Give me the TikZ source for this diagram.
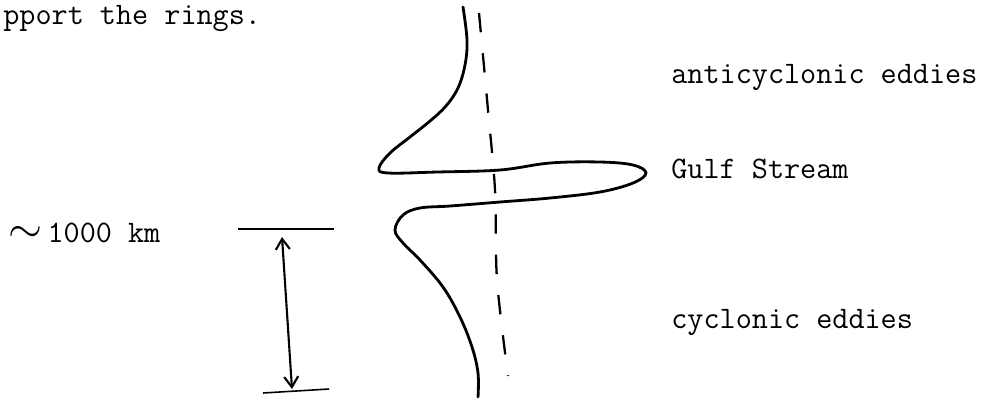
\documentclass[tikz,border=0pt]{standalone}
\usepackage{fontspec}
\usetikzlibrary{arrows.meta}

\begin{document}
\begin{tikzpicture}[
    x=0.02cm, y=-0.02cm,
    txt/.style={anchor=base west, inner sep=0pt,
        font=\fontsize{17.8}{20}\selectfont\ttfamily\addfontfeatures{FakeBold=1.3}},
    stream/.style={line width=1.6pt, line cap=round, line join=round},
    axis/.style={line width=1.3pt, dash pattern=on 11pt off 12pt},
    bar/.style={line width=0.9pt},
    arrow/.style={{Straight Barb[length=6pt,width=8pt]}-{Straight Barb[length=6pt,width=8pt]}, line width=1.2pt}
]
\useasboundingbox (0,0) rectangle (982,400);

% text
\node[txt] (prev) at (3,24) {pport the rings.};
\node[txt] (anti) at (671,83) {anticyclonic eddies};
\node[txt] (gulf) at (671,178) {Gulf Stream};
\node[txt] (cycl) at (671,328) {cyclonic eddies};
\node[txt] (dist) at (8,242) {{\fontsize{24}{24}\selectfont$\sim$}\,1000 km};

% scale bars
\coordinate (topL) at (238,229);
\coordinate (topR) at (334,229);
\coordinate (botL) at (263,393);
\coordinate (botR) at (329,389);
\coordinate (topA) at (282,237);
\coordinate (botA) at (292,389);
\draw[bar] (topL) -- (topR);
\draw[bar] (botL) -- (botR);
\draw[arrow] (topA) -- (botA);

% mean axis
\draw[axis] plot[smooth] coordinates {(479,13) (488,110) (495,190) (497,280) (508,376)};

% meandering stream
\draw[stream] plot[smooth, tension=0.6] coordinates {
    (463,7) (467,40) (465,65) (458,88) (446,106) (430,121) (410,137)
    (390,153) (379,168) (388,173) (437,172) (500,170) (550,163)
    (600,162) (633,165) (646,173) (633,183) (600,192) (550,198)
    (500,202) (450,206) (420,208) (403,215) (395,230) (403,243)
    (420,260) (443,287) (460,317) (472,347) (478,373) (478,397)};
\end{tikzpicture}
\end{document}
